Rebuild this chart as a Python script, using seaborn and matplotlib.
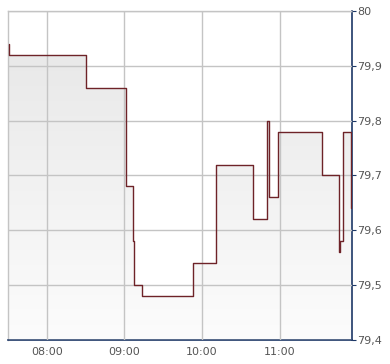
import matplotlib
matplotlib.use("Agg")
import matplotlib.pyplot as plt
import seaborn as sns
import numpy as np
import pandas as pd
from matplotlib.colors import LinearSegmentedColormap

times = ["07:30:45", "07:30:50", "08:30:00", "09:01:20", "09:06:50", "09:07:30",
         "09:13:40", "09:53:00", "10:10:50", "10:39:20", "10:50:10", "10:51:50",
         "10:58:40", "11:33:00", "11:46:05", "11:46:55", "11:48:40", "11:55:25",
         "11:55:35"]
prices = [79.94, 79.92, 79.86, 79.68, 79.58, 79.50,
          79.48, 79.54, 79.72, 79.62, 79.80, 79.66,
          79.78, 79.70, 79.56, 79.58, 79.78, 79.64,
          79.64]
xtick_labels = ["08:00", "09:00", "10:00", "11:00"]
ytick_values = [79.4, 79.5, 79.6, 79.7, 79.8, 79.9, 80.0]
ytick_labels = ["79,4", "79,5", "79,6", "79,7", "79,8", "79,9", "80"]


def to_hours(s):
    h, m, sec = (int(p) for p in s.split(":"))
    return h + m / 60 + sec / 3600


df = pd.DataFrame({"t": [to_hours(t) for t in times], "price": prices})

sns.set_style("white")
plt.rcParams['font.family'] = ['DejaVu Sans']

fig = plt.figure(figsize=(3.9, 3.64), dpi=100)
ax = fig.add_axes([8 / 390, 24 / 364, 344 / 390, 329 / 364])

x0, x1 = 7.5, 11 + 56 / 60
y0, y1 = 79.4, 80.0
ax.set_xlim(x0, x1)
ax.set_ylim(y0, y1)

# gradient fill under the step line
xs = np.concatenate([[x0], df["t"].values])
ys = np.concatenate([[df["price"].values[0]], df["price"].values])
fb = ax.fill_between(xs, ys, y0, step="post", facecolor="none", edgecolor="none")
grad = np.linspace(0, 1, 256).reshape(-1, 1)
cmap = LinearSegmentedColormap.from_list("g", ["#e6e6e6", "#fcfcfc"])
im = ax.imshow(grad, cmap=cmap, aspect="auto", extent=[x0, x1, y0, y1],
               origin="upper", zorder=1)
im.set_clip_path(fb.get_paths()[0], transform=ax.transData)

sns.lineplot(data=df, x="t", y="price", drawstyle="steps-post", color="#6e2328",
             linewidth=1.0, estimator=None, ax=ax, zorder=3)

ax.set_xticks([8, 9, 10, 11])
ax.set_xticklabels(xtick_labels)
ax.set_yticks(ytick_values)
ax.set_yticklabels(ytick_labels)
ax.yaxis.tick_right()
ax.set_xlabel("")
ax.set_ylabel("")

ax.grid(True, color="#c4c4c4", linewidth=1, zorder=2)
ax.set_axisbelow(False)
for sp in ["left", "top"]:
    ax.spines[sp].set_color("#c4c4c4")
    ax.spines[sp].set_linewidth(1)
for sp in ["right", "bottom"]:
    ax.spines[sp].set_color("#1c3766")
    ax.spines[sp].set_linewidth(1.2)

ax.tick_params(axis="y", which="both", right=True, left=False, length=3,
               color="#1c3766", labelsize=8, labelcolor="#555555", pad=1)
ax.tick_params(axis="x", which="both", bottom=True, length=0,
               labelsize=8, labelcolor="#555555", pad=5)

fig.savefig("out.png", dpi=100)
